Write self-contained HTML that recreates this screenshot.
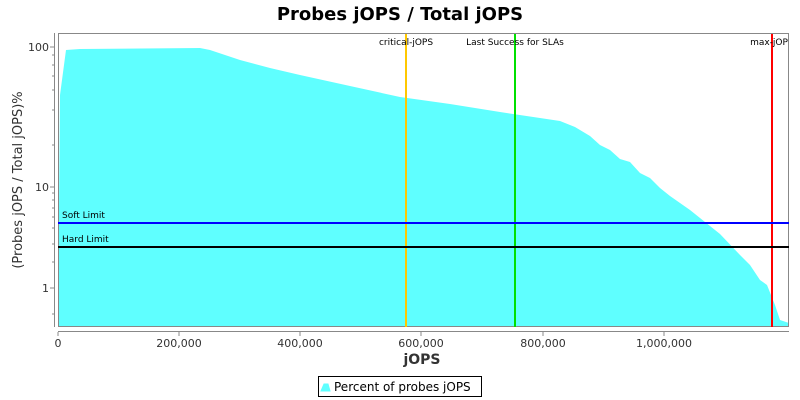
<!DOCTYPE html>
<html><head><meta charset="utf-8"><style>body{margin:0;background:#fff}svg{display:block;font-family:"DejaVu Sans","Liberation Sans",sans-serif}</style></head><body>
<svg width="800" height="400" xmlns="http://www.w3.org/2000/svg">
<text x="400" y="20" text-anchor="middle" font-size="18" font-weight="bold">Probes jOPS / Total jOPS</text>
<polygon fill="#5fffff" points="58,327 60,95 66,50 80,49 200,48 210,50 240,60 270,68 300,75 350,86 400,97 450,104 500,112 540,118 560,121 575,127 590,136 600,145 610,150 620,159 630,162 640,173 650,178 660,188 670,196 690,210 700,218 720,234 740,255 750,265 760,280 767,285 775,305 780,320 789,323 789,327"/>
<rect x="58.5" y="33.5" width="730" height="293" fill="none" stroke="#888"/>
<line x1="406" y1="34" x2="406" y2="327" stroke="#ffc800" stroke-width="2"/>
<line x1="515" y1="34" x2="515" y2="327" stroke="#00e000" stroke-width="2"/>
<line x1="772" y1="34" x2="772" y2="327" stroke="#ff0000" stroke-width="2"/>
<line x1="58" y1="223" x2="789" y2="223" stroke="#0000ff" stroke-width="2"/>
<line x1="58" y1="247" x2="789" y2="247" stroke="#000" stroke-width="2"/>
<g font-size="9" fill="#000">
<text x="406" y="45" text-anchor="middle">critical-jOPS</text>
<text x="515" y="45" text-anchor="middle">Last Success for SLAs</text>
<text x="769" y="45" text-anchor="middle">max-jOP</text>
<text x="62" y="218">Soft Limit</text>
<text x="62" y="242">Hard Limit</text>
</g>
<g stroke="#888">
<line x1="54.5" y1="33" x2="54.5" y2="327"/>
<line x1="58" y1="331.5" x2="789" y2="331.5"/>
<line x1="50" y1="47" x2="54" y2="47"/><line x1="50" y1="187" x2="54" y2="187"/><line x1="50" y1="288" x2="54" y2="288"/>
<line x1="52" y1="55" x2="54" y2="55"/><line x1="52" y1="65" x2="54" y2="65"/><line x1="52" y1="76" x2="54" y2="76"/><line x1="52" y1="90" x2="54" y2="90"/><line x1="52" y1="110" x2="54" y2="110"/><line x1="52" y1="145" x2="54" y2="145"/>
<line x1="52" y1="193" x2="54" y2="193"/><line x1="52" y1="200" x2="54" y2="200"/><line x1="52" y1="208" x2="54" y2="208"/><line x1="52" y1="217" x2="54" y2="217"/><line x1="52" y1="228" x2="54" y2="228"/><line x1="52" y1="244" x2="54" y2="244"/><line x1="52" y1="262" x2="54" y2="262"/>
<line x1="52" y1="314" x2="54" y2="314"/>
<line x1="58" y1="332" x2="58" y2="336"/><line x1="179" y1="332" x2="179" y2="336"/><line x1="300" y1="332" x2="300" y2="336"/><line x1="421" y1="332" x2="421" y2="336"/><line x1="543" y1="332" x2="543" y2="336"/><line x1="664" y1="332" x2="664" y2="336"/>
</g>
<g font-size="11" fill="#333">
<text x="49" y="51" text-anchor="end">100</text>
<text x="49" y="191" text-anchor="end">10</text>
<text x="49" y="292" text-anchor="end">1</text>
<text x="58" y="347" text-anchor="middle">0</text>
<text x="179" y="347" text-anchor="middle">200,000</text>
<text x="300" y="347" text-anchor="middle">400,000</text>
<text x="421" y="347" text-anchor="middle">600,000</text>
<text x="543" y="347" text-anchor="middle">800,000</text>
<text x="664" y="347" text-anchor="middle">1,000,000</text>
</g>
<text x="422" y="364" text-anchor="middle" font-size="14" font-weight="bold" fill="#333">jOPS</text>
<text transform="translate(22,180) rotate(-90)" text-anchor="middle" font-size="13" fill="#333">(Probes jOPS / Total jOPS)%</text>
<rect x="318.5" y="376.5" width="163" height="20" fill="#fff" stroke="#000"/>
<polygon points="321,391 324,384 328,384 330,391" fill="#5fffff" stroke="#5fffff"/>
<text x="334" y="391" font-size="12" fill="#000">Percent of probes jOPS</text>
</svg>
</body></html>
